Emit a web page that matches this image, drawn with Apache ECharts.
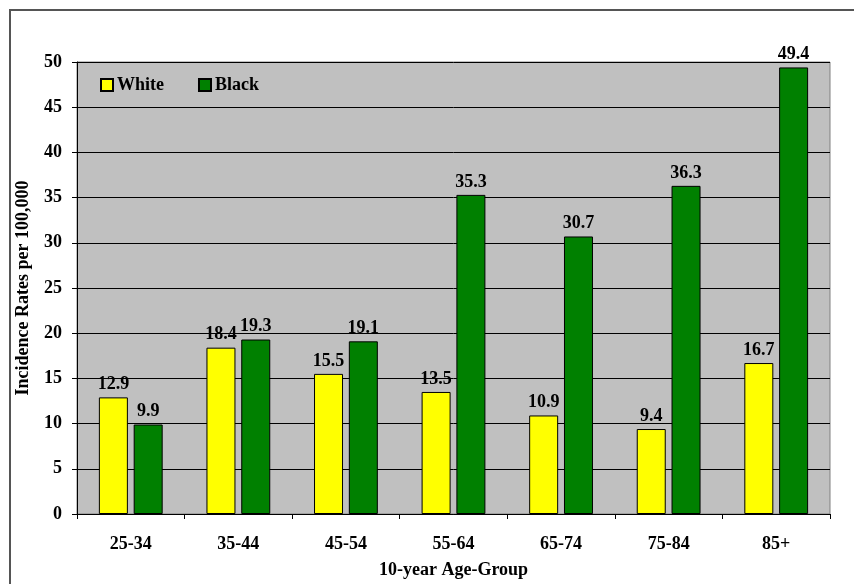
<!DOCTYPE html>
<html>
<head>
    <meta charset="UTF-8">
    <title>Incidence Rates by Age Group</title>
    <script src="https://cdn.jsdelivr.net/npm/echarts@6/dist/echarts.min.js"></script>
    <style>
        html, body { margin: 0; padding: 0; background: #fff; }
        #chart { width: 854px; height: 584px; position: relative; }
        #frame { position: absolute; left: 9px; top: 9px; width: 860px; height: 600px; border: 2px solid #555; box-sizing: border-box; pointer-events: none; }
    </style>
</head>
<body>
    <div id="chart"></div>
    <div id="frame"></div>
    <script>
        // data
        const ageGroups = ['25-34', '35-44', '45-54', '55-64', '65-74', '75-84', '85+'];
        const whiteRates = [12.9, 18.4, 15.5, 13.5, 10.9, 9.4, 16.7];
        const blackRates = [9.9, 19.3, 19.1, 35.3, 30.7, 36.3, 49.4];

        const font = 'Liberation Serif, Times New Roman, serif';
        const txt = { fontFamily: font, fontWeight: 'bold', fontSize: 18, color: '#000' };
        const lbl = Object.assign({ show: true, position: 'top', distance: 4 }, txt);

        let chart = echarts.init(document.getElementById('chart'));
        chart.setOption({
            animation: false,
            grid: {
                left: 77, right: 24, top: 62, bottom: 70,
                show: true, backgroundColor: '#C0C0C0', borderColor: '#808080', borderWidth: 1
            },
            legend: {
                left: 95, top: 71, itemWidth: 12, itemHeight: 12, itemGap: 34,
                icon: 'rect',
                textStyle: Object.assign({ padding: [0, 0, 0, -1] }, txt),
                data: ['White', 'Black']
            },
            xAxis: {
                type: 'category', data: ageGroups,
                name: '10-year Age-Group', nameLocation: 'middle', nameGap: 47,
                nameTextStyle: txt,
                axisLine: { lineStyle: { color: '#000', width: 1 } },
                axisTick: { show: true, length: 5, lineStyle: { color: '#000' } },
                axisLabel: Object.assign({ margin: 21 }, txt)
            },
            yAxis: {
                type: 'value', min: 0, max: 50, interval: 5,
                name: 'Incidence Rates per 100,000', nameLocation: 'middle', nameGap: 45,
                nameTextStyle: txt,
                axisLine: { show: true, lineStyle: { color: '#000', width: 1 } },
                axisTick: { show: true, length: 5, inside: false, lineStyle: { color: '#000' } },
                axisLabel: Object.assign({ margin: 15 }, txt),
                splitLine: { show: true, lineStyle: { color: '#000', width: 1 } }
            },
            series: [
                {
                    name: 'White', type: 'bar', data: whiteRates,
                    barWidth: 29, barGap: '20%',
                    itemStyle: { color: '#FFFF00', borderColor: '#000', borderWidth: 1 },
                    label: lbl
                },
                {
                    name: 'Black', type: 'bar', data: blackRates,
                    barWidth: 29,
                    itemStyle: { color: '#008000', borderColor: '#000', borderWidth: 1 },
                    label: lbl
                }
            ]
        });
    </script>
</body>
</html>
